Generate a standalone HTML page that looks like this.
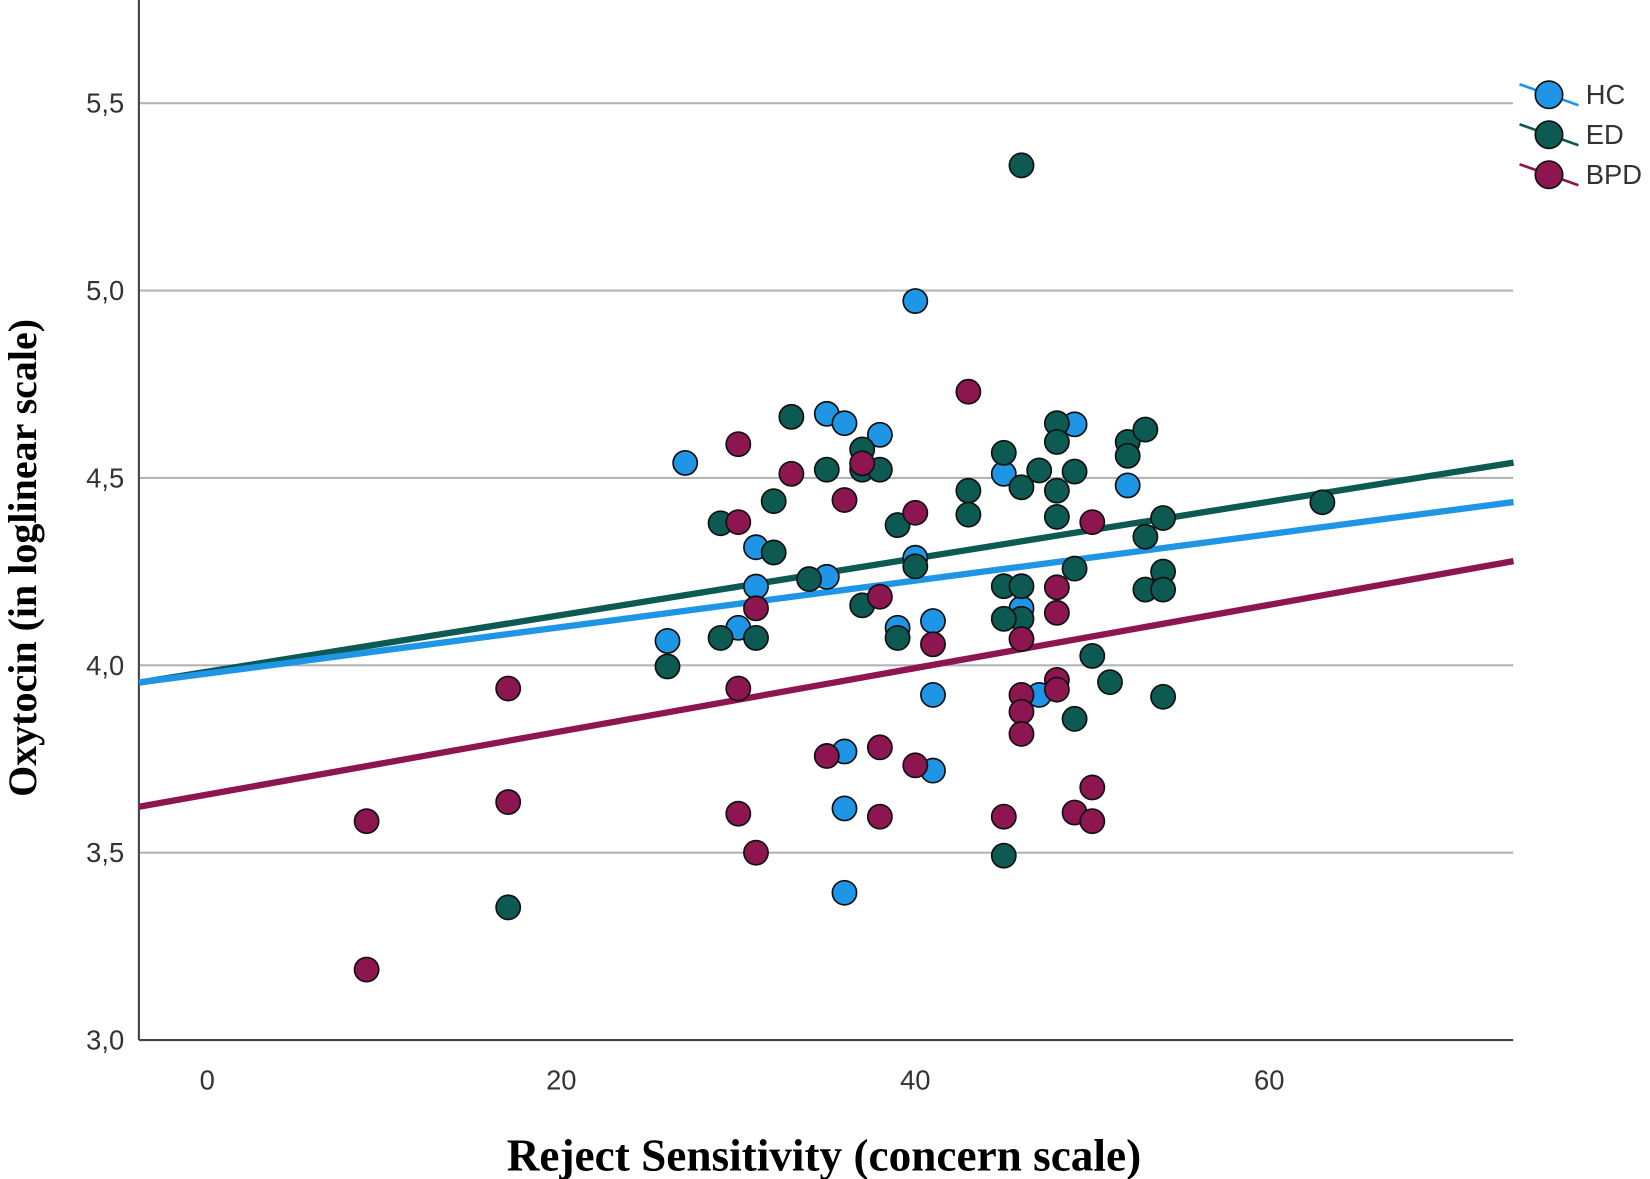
<!DOCTYPE html>
<html><head><meta charset="utf-8"><style>
html,body{margin:0;padding:0;background:#fff;}
svg{display:block;}
</style></head><body>
<svg id="chart" width="1650" height="1179" viewBox="0 0 1568 1120" preserveAspectRatio="none" xmlns="http://www.w3.org/2000/svg" font-family="'Liberation Sans', sans-serif">
<g id="grid"></g>
<g id="axes"></g>
<g id="fits"></g>
<g id="pts"></g>
<g id="legend"></g>
<text transform="translate(34,530) rotate(-90)" text-anchor="middle" font-family="'Liberation Serif', serif" font-weight="bold" font-size="38" fill="#000">Oxytocin (in loglinear scale)</text>
<text x="783" y="1112" text-anchor="middle" font-family="'Liberation Serif', serif" font-weight="bold" font-size="43" fill="#000">Reject Sensitivity (concern scale)</text>
</svg>
<script>
const xTicks=[0,20,40,60];
const yTicks=[3.0,3.5,4.0,4.5,5.0,5.5];
const yTickLabels=["3,0","3,5","4,0","4,5","5,0","5,5"];
const groups=["HC","ED","BPD"];
const colors=["#1f95e6","#0c5a52","#8e1650"];
const hcX=[27,31,31,30,26,35,35,36,38,40,40,39,41,41,41,36,36,36,45,46,47,49,52];
const hcY=[4.54,4.315,4.21,4.10,4.065,4.236,4.671,4.646,4.615,4.972,4.287,4.10,4.118,3.921,3.719,3.770,3.618,3.393,4.511,4.152,3.921,4.643,4.480];
const edX=[33,32,32,29,29,31,26,34,35,37,37,38,37,39,39,40,43,43,45,46,45,46,46,45,47,48,48,48,48,49,49,49,50,51,52,52,53,53,53,54,54,54,54,46,45,17,63];
const edY=[4.663,4.438,4.301,4.379,4.073,4.073,3.997,4.23,4.522,4.576,4.522,4.522,4.16,4.374,4.073,4.264,4.466,4.402,4.567,4.475,4.211,4.211,4.124,4.124,4.52,4.646,4.596,4.466,4.396,4.517,4.258,3.857,4.025,3.955,4.596,4.559,4.629,4.343,4.202,4.393,4.25,4.202,3.916,5.334,3.492,3.354,4.435];
const bpdX=[9,9,17,17,30,30,30,30,31,31,33,35,36,37,38,38,38,40,40,41,43,45,46,46,46,46,48,48,48,48,49,50,50,50];
const bpdY=[3.584,3.188,3.938,3.635,4.59,4.382,3.938,3.604,3.5,4.152,4.511,3.758,4.441,4.539,4.183,3.781,3.596,4.407,3.733,4.056,4.73,3.596,4.07,3.921,3.876,3.817,4.208,4.14,3.961,3.935,3.607,3.674,3.584,4.382];
const fitIntercept=[3.978,3.983,3.655];
const fitSlope=[0.00620,0.00756,0.00844];
const xDomain=[-3.86,73.8];
const NS="http://www.w3.org/2000/svg";
const X0=132,X1=1438,YB=988;
function sx(v){return 197+v*16.82;}
function sy(v){return YB-(v-3)*356;}
function mk(tag,attrs,parent){const e=document.createElementNS(NS,tag);for(const k in attrs)e.setAttribute(k,attrs[k]);parent.appendChild(e);return e;}
const grid=document.getElementById('grid'),axes=document.getElementById('axes'),fits=document.getElementById('fits'),pts=document.getElementById('pts'),legend=document.getElementById('legend');
yTicks.forEach((t,i)=>{
  if(i>0){const g=mk('line',{x1:X0,x2:X1,y1:sy(t),y2:sy(t),stroke:'#b4b4b4','stroke-width':2},grid);
  
  }
  const l=mk('text',{x:118,y:sy(t)+9,'text-anchor':'end','font-size':26,fill:'#333'},axes);
  l.textContent=yTickLabels[i];
  
  
});
xTicks.forEach(t=>{
  const l=mk('text',{x:sx(t),y:1035,'text-anchor':'middle','font-size':26,fill:'#333'},axes);
  l.textContent=t;
  
  
});
const ya=mk('line',{x1:X0,x2:X0,y1:0,y2:YB,stroke:'#444','stroke-width':2},axes);


const xa=mk('line',{x1:X0,x2:X1,y1:YB,y2:YB,stroke:'#444','stroke-width':2},axes);


[1,0,2].forEach(i=>{
  const f=mk('line',{x1:sx(xDomain[0]),x2:sx(xDomain[1]),y1:sy(fitIntercept[i]+fitSlope[i]*xDomain[0]),y2:sy(fitIntercept[i]+fitSlope[i]*xDomain[1]),stroke:colors[i],'stroke-width':6},fits);
  
  
});
const series=[[hcX,hcY],[edX,edY],[bpdX,bpdY]];
[0,1,2].forEach(i=>{
  const [xs,ys]=series[i];
  xs.forEach((x,j)=>{
    const c=mk('circle',{cx:sx(x),cy:sy(ys[j]),r:11.5,fill:colors[i],stroke:'#111','stroke-width':1.6},pts);
    
    
  });
});
groups.forEach((g,i)=>{
  const y=90+i*38;
  const ln=mk('line',{x1:1444,y1:y-10,x2:1500,y2:y+10,stroke:colors[i],'stroke-width':2.5},legend);
  
  
  const c=mk('circle',{cx:1472,cy:y,r:13,fill:colors[i],stroke:'#111','stroke-width':1.6},legend);
  
  
  const t=mk('text',{x:1507,y:y+9,'font-size':26,fill:'#333'},legend);
  t.textContent=g;
  
  
});
</script>
</body></html>
